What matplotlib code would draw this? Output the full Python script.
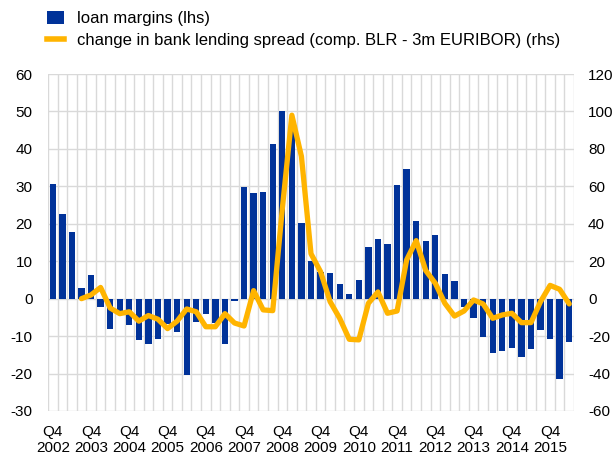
import matplotlib
matplotlib.use("Agg")
import matplotlib.pyplot as plt
from matplotlib.patches import Patch
from matplotlib.lines import Line2D
import numpy as np

plt.rcParams['font.family'] = ['Liberation Sans', 'DejaVu Sans']
plt.rcParams['axes.unicode_minus'] = False

# Quarters from Q4 2002 to Q2 2016
years = list(range(2002, 2016))
tick_labels = [f"Q4\n{y}" for y in years]

loan_margins = [30.7, 22.6, 17.8, 2.9, 6.4, -2.1, -8.2, -3.5, -7.0, -11.0,
                -12.2, -10.7, -6.8, -8.8, -20.4, -6.1, -4.1, -6.5, -12.0, -0.6,
                29.7, 28.3, 28.5, 41.3, 50.0, 46.0, 20.1, 10.1, 7.2, 6.8,
                4.0, 1.3, 5.0, 13.8, 16.0, 14.6, 30.4, 34.6, 20.7, 15.4,
                16.9, 6.6, 4.6, -2.1, -5.1, -10.2, -14.4, -13.9, -13.3, -15.7,
                -13.5, -8.4, -10.9, -21.5, -11.5]

spread_change = [np.nan, np.nan, np.nan, 0, 2, 6, -5, -8, -7, -12,
                 -9, -11, -16, -12, -5.5, -7, -15, -15, -8, -13,
                 -14.6, 4.3, -6, -6.4, 48, 98, 76, 24, 14.4, -1.6,
                 -10.5, -21.7, -22, -2.5, 3.6, -7.8, -6.6, 20.7, 31, 15,
                 8.2, -2.5, -9.3, -6.6, -0.7, -2.8, -10.5, -8.7, -7.8, -12.8,
                 -12.8, -1.6, 7.1, 5, -2.8]

bar_color = '#003299'
line_color = '#FFB400'
grid_color = '#d9d9d9'

x = np.arange(len(loan_margins))

fig = plt.figure(figsize=(6.13, 4.55), dpi=100)
ax = fig.add_axes([48/613, 44/455, (574-48)/613, (411-74)/455])
ax2 = ax.twinx()

ax.set_xlim(-0.5, len(x) - 0.5)
ax.set_ylim(-30, 60)
ax.set_yticks(np.arange(-30, 61, 10))
ax2.set_ylim(-60, 120)
ax2.set_yticks(np.arange(-60, 121, 20))

# grid
for yv in np.arange(-30, 61, 10):
    ax.axhline(yv, color=grid_color, lw=1.0, zorder=0)
for xv in np.arange(-0.5, len(x), 1):
    ax.axvline(xv, color=grid_color, lw=1.0, zorder=0)

ax.bar(x, loan_margins, width=0.66, color=bar_color, zorder=2)
ax2.plot(x, spread_change, color=line_color, lw=3.8, solid_joinstyle='round',
         solid_capstyle='round', zorder=3)

ax.set_xticks(x[::4])
ax.set_xticklabels(tick_labels, fontsize=11, linespacing=1.15)

for a in (ax, ax2):
    for s in a.spines.values():
        s.set_visible(False)
ax.tick_params(axis='both', length=0, labelsize=11)
ax.tick_params(axis='y', pad=11)
ax.tick_params(axis='x', pad=10)
ax2.tick_params(axis='y', length=0, labelsize=11, pad=10)

handles = [Patch(facecolor=bar_color, edgecolor='none'),
           Line2D([0], [0], color=line_color, lw=4)]
labels = ['loan margins (lhs)',
          'change in bank lending spread (comp. BLR - 3m EURIBOR) (rhs)']
fig.legend(handles, labels, loc='upper left',
           bbox_to_anchor=(47/613, 1 - 11/455), bbox_transform=fig.transFigure,
           frameon=False, fontsize=12, borderpad=0, borderaxespad=0,
           handlelength=1.0, handleheight=0.85, handletextpad=0.8,
           labelspacing=0.4)

fig.savefig('out.png', dpi=100)
